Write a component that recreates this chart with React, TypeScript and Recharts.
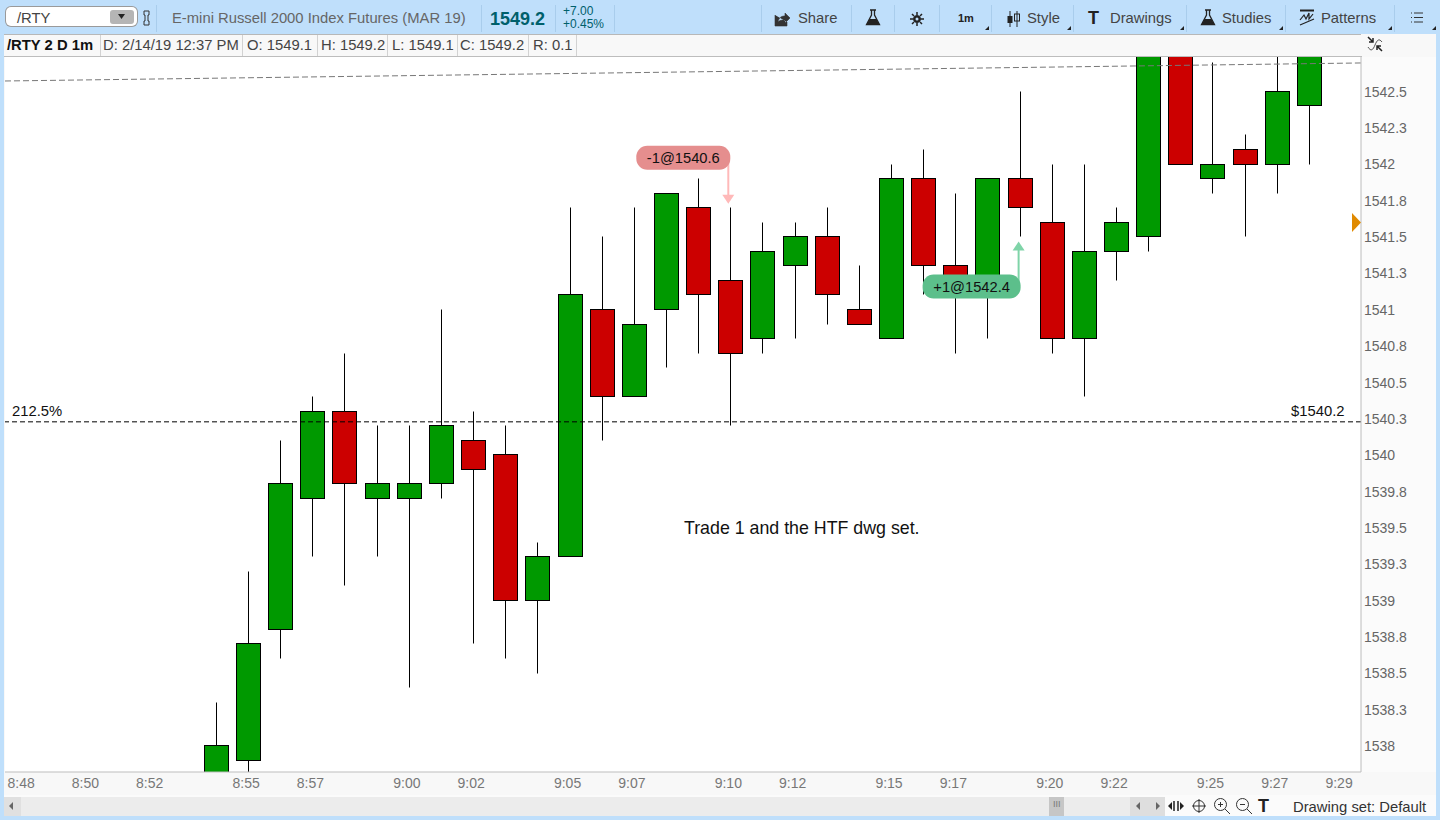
import React from 'react';
import {
  ComposedChart,
  Bar,
  XAxis,
  YAxis,
  ReferenceLine,
  ReferenceDot,
} from 'recharts';

// minutes after 8:48
const minutes = [
  6, 7, 8, 9, 10, 11, 12, 13, 14, 15, 16, 17, 18, 19, 20, 21, 22, 23, 24, 25,
  26, 27, 28, 29, 30, 31, 32, 33, 34, 35, 36, 37, 38, 39, 40,
];
const opens = [
  1537.7, 1537.9, 1538.8, 1539.7, 1540.3, 1539.7, 1539.7, 1539.8, 1540.1, 1540,
  1539, 1539.3, 1541, 1540.4, 1541, 1541.7, 1541.2, 1540.8, 1541.3, 1541.5,
  1541, 1540.8, 1541.9, 1541.3, 1541.2, 1541.9, 1541.6, 1540.8, 1541.4, 1541.5,
  1543, 1541.9, 1542.1, 1542, 1542.4,
];
const highs = [
  1538.3, 1539.2, 1540.1, 1540.4, 1540.7, 1540.2, 1540.2, 1541, 1540.3, 1540.2,
  1539.4, 1541.7, 1541.5, 1541.7, 1541.8, 1541.9, 1541.7, 1541.6, 1541.6, 1541.7,
  1541.3, 1542, 1542.1, 1541.8, 1541.9, 1542.5, 1542, 1542, 1541.7, 1543,
  1543, 1542.7, 1542.2, 1542.8, 1542.9,
];
const lows = [
  1537.6, 1537.8, 1538.6, 1539.3, 1539.1, 1539.3, 1538.4, 1539.7, 1538.7, 1538.6,
  1538.5, 1539.3, 1540.1, 1540.4, 1540.6, 1540.7, 1540.2, 1540.7, 1540.8, 1540.9,
  1540.9, 1540.8, 1541.1, 1540.7, 1540.8, 1541.5, 1540.7, 1540.4, 1541.2, 1541.4,
  1542, 1541.8, 1541.5, 1541.8, 1542,
];
const closes = [
  1538, 1538.7, 1539.8, 1540.3, 1539.8, 1539.8, 1539.8, 1540.2, 1539.9, 1539,
  1539.3, 1541.1, 1540.4, 1540.9, 1541.8, 1541.1, 1540.7, 1541.4, 1541.5, 1541.1,
  1540.9, 1541.9, 1541.3, 1541.2, 1541.9, 1541.7, 1540.8, 1541.4, 1541.6, 1543,
  1542, 1542, 1542, 1542.5, 1542.9,
];

const timeTicks = [0, 2, 4, 7, 9, 12, 14, 17, 19, 22, 24, 27, 29, 32, 34, 37, 39, 41];
const timeLabels = [
  '8:48', '8:50', '8:52', '8:55', '8:57', '9:00', '9:02', '9:05', '9:07',
  '9:10', '9:12', '9:15', '9:17', '9:20', '9:22', '9:25', '9:27', '9:29',
];
const priceTicks = [
  1538, 1538.25, 1538.5, 1538.75, 1539, 1539.25, 1539.5, 1539.75, 1540, 1540.25,
  1540.5, 1540.75, 1541, 1541.25, 1541.5, 1541.75, 1542, 1542.25, 1542.5,
];

const fibLevel = 1540.23;
const trendStart = 1542.574;
const trendEnd = 1542.698;
const xDomain = [-0.563, 41.62];
const yDomain = [1537.822, 1542.739];

const candles = minutes.map((m, i) => ({
  m,
  open: opens[i],
  high: highs[i],
  low: lows[i],
  close: closes[i],
}));

const FONT = '"Liberation Sans", Arial, sans-serif';
const BLUE = '#bfdffb';

const Candle = (props: any) => {
  const { x, y, width, height, payload } = props;
  const perUnit = height / (payload.high - payload.low);
  const yOf = (p: number) => Math.floor(y + (payload.high - p) * perUnit - 0.4) + 0.5;
  const cx = Math.round(x + width / 2) + 0.5;
  const top = yOf(Math.max(payload.open, payload.close));
  const bottom = yOf(Math.min(payload.open, payload.close));
  const up = payload.close > payload.open;
  return (
    <g>
      <line x1={cx} x2={cx} y1={yOf(payload.high)} y2={yOf(payload.low)} stroke="#000" />
      <rect
        x={cx - 12}
        y={top}
        width={24}
        height={bottom - top}
        fill={up ? '#009900' : '#cc0000'}
        stroke="#000"
      />
    </g>
  );
};

const SellMark = ({ cx, cy }: any) => (
  <g>
    <path d={`M${cx - 2} ${cy - 8} V${cy - 45}`} stroke="#ffb9b9" strokeWidth={2} fill="none" />
    <path d={`M${cx - 8} ${cy - 9} H${cx + 4} L${cx - 2} ${cy} Z`} fill="#ffb9b9" />
    <rect x={cx - 94} y={cy - 58} width={94} height={24} rx={11} fill="#e58e8e" />
    <text x={cx - 47} y={cy - 41} textAnchor="middle" fontSize={14.7} fontFamily={FONT} fill="#111">
      -1@1540.6
    </text>
  </g>
);

const BuyMark = ({ cx, cy }: any) => (
  <g>
    <path d={`M${cx - 1} ${cy + 8} V${cy + 40}`} stroke="#7fd4a8" strokeWidth={2} fill="none" />
    <path d={`M${cx - 7} ${cy + 9} H${cx + 5} L${cx - 1} ${cy} Z`} fill="#7fd4a8" />
    <rect x={cx - 97} y={cy + 33} width={98} height={24} rx={11} fill="#5cbf8b" />
    <text x={cx - 48} y={cy + 50} textAnchor="middle" fontSize={14.7} fontFamily={FONT} fill="#111">
      +1@1542.4
    </text>
  </g>
);

const Txt = ({ x, y, size = 14.8, color = '#555', bold, children }: any) => (
  <div
    style={{
      position: 'absolute',
      left: x,
      top: y,
      fontSize: size,
      lineHeight: `${Math.round(size) + 2}px`,
      color,
      fontWeight: bold ? 700 : 400,
      whiteSpace: 'nowrap',
    }}
  >
    {children}
  </div>
);

const Box = ({ x, y, w, h, bg, style }: any) => (
  <div style={{ position: 'absolute', left: x, top: y, width: w, height: h, background: bg, ...style }} />
);

const Icon = ({ x, y, w = 18, h = 18, children }: any) => (
  <svg
    width={w}
    height={h}
    viewBox={`0 0 ${w} ${h}`}
    style={{ position: 'absolute', left: x, top: y }}
  >
    {children}
  </svg>
);

const Flask = ({ x }: { x: number }) => (
  <Icon x={x} y={9}>
    <path d="M6 1h6M7.5 1v5L2.5 15.5h13L10.5 6V1" fill="none" stroke="#222" strokeWidth={1.3} />
    <path d="M5.5 10h7l3 5.5h-13z" fill="#222" />
  </Icon>
);

const toolbarSeps = [156, 481, 555, 614, 761, 851, 894, 939, 991, 1073, 1186, 1285, 1394];
const infoSeps = [100, 242, 317, 387, 457, 528, 576];
const cornerMarks = [989, 1071, 1184, 1283, 1392, 1436];

const App = () => (
  <div
    style={{
      position: 'absolute',
      left: 0,
      top: 0,
      width: 1440,
      height: 820,
      overflow: 'hidden',
      background: BLUE,
      fontFamily: FONT,
    }}
  >
    <style>{'body{margin:0}'}</style>

    {/* chart body */}
    <Box x={4} y={34} w={1432} h={782} bg="#f8f8f8" />
    <Box x={1362} y={57} w={74} h={715} bg="#fbfbfb" />
    <Box x={5} y={57} w={1356} h={715} bg="#fff" />
    <div style={{ position: 'absolute', left: 0, top: 0 }}>
      <ComposedChart
        width={1440}
        height={820}
        data={candles}
        margin={{ top: 57, right: 0, bottom: 0, left: 5 }}
      >
        <XAxis
          dataKey="m"
          type="number"
          domain={xDomain}
          allowDataOverflow
          ticks={timeTicks}
          interval={0}
          height={48}
          tickSize={0}
          tickMargin={6}
          tickFormatter={(v: number) => timeLabels[timeTicks.indexOf(v)]}
          tick={{ fill: '#777', fontSize: 14, fontFamily: FONT, dx: -2 }}
          axisLine={{ stroke: '#bdbdbd' }}
        />
        <YAxis
          orientation="right"
          type="number"
          domain={yDomain}
          allowDataOverflow
          ticks={priceTicks}
          interval={0}
          width={79}
          tickSize={0}
          tickMargin={3}
          tickFormatter={(v: number) => String(Number(v.toFixed(1)))}
          tick={{ fill: '#666', fontSize: 14, fontFamily: FONT }}
          axisLine={{ stroke: '#bdbdbd' }}
        />
        <ReferenceLine
          segment={[
            { x: xDomain[0], y: trendStart },
            { x: xDomain[1], y: trendEnd },
          ]}
          stroke="#777"
          strokeDasharray="6 3"
        />
        <ReferenceLine y={fibLevel} stroke="#000" strokeDasharray="5 3" />
        <Bar
          dataKey={(d: any) => [d.low, d.high]}
          barSize={24}
          shape={Candle}
          isAnimationActive={false}
          activeBar={false}
        />
        <ReferenceDot x={22} y={1541.73} shape={SellMark} />
        <ReferenceDot x={31} y={1541.47} shape={BuyMark} />
      </ComposedChart>
    </div>

    <Txt x={12} y={403} color="#111">212.5%</Txt>
    <Txt x={1291} y={403} color="#111">$1540.2</Txt>
    <Txt x={684} y={518} size={17.8} color="#111">Trade 1 and the HTF dwg set.</Txt>
    <Icon x={1351} y={213} w={10} h={20}>
      <path d="M1 0 L10 9.5 L1 19 Z" fill="#e08a00" />
    </Icon>

    {/* toolbar */}
    {toolbarSeps.map((x) => (
      <Box key={x} x={x} y={5} w={1} h={27} bg="#a9cdec" />
    ))}
    <Box x={6} y={7} w={131} h={19} bg="#fff" style={{ borderRadius: 5, boxShadow: '0 0 0 1px #9a9a9a' }} />
    <Txt x={17} y={10} color="#444">/RTY</Txt>
    <Box x={110} y={10} w={24} h={14} bg="#b5b5b5" style={{ borderRadius: 3 }} />
    <Icon x={117} y={14} w={10} h={6}><path d="M1 0h7L4.5 5z" fill="#222" /></Icon>
    <Icon x={142} y={10} w={10} h={16}>
      <path d="M2 1h5v4H6v6h1v4H2v-4h1V5H2z" fill="none" stroke="#333" />
    </Icon>
    <Txt x={172} y={10} color="#666">E-mini Russell 2000 Index Futures (MAR 19)</Txt>
    <Txt x={490} y={9} size={18} color="#00606b" bold>1549.2</Txt>
    <Txt x={563} y={4} size={12} color="#00606b">+7.00</Txt>
    <Txt x={563} y={17} size={12} color="#00606b">+0.45%</Txt>

    <Icon x={774} y={10}>
      <path d="M1 5v11h12v-4M4 12c1-5 4-6 7-6V3l5 5-5 5v-3c-3 0-5 0-7 2z" fill="#333" stroke="#333" strokeWidth={0.6} />
    </Icon>
    <Txt x={798} y={10} color="#444">Share</Txt>
    <Flask x={864} />
    <Icon x={908} y={10}>
      <circle cx={9} cy={9} r={3.500} fill="#222" stroke="#222" />
      <circle cx={9} cy={9} r={1.500} fill="#bfdffb" />
      <path d="M9 2v3M9 13v3M2 9h3M13 9h3M4 4l2 2M12 12l2 2M14 4l-2 2M6 12l-2 2" stroke="#222" strokeWidth={1.500} />
    </Icon>
    <Txt x={958} y={12} size={11} color="#222" bold>1m</Txt>
    <Icon x={1005} y={10}>
      <path d="M5 1v16M12 1v16" stroke="#222" />
      <rect x={2.500} y={6} width={5} height={7} fill="#222" />
      <rect x={9.500} y={4} width={5} height={7} fill="none" stroke="#222" />
    </Icon>
    <Txt x={1027} y={10} color="#444">Style</Txt>
    <Txt x={1088} y={8} size={18} color="#222" bold>T</Txt>
    <Txt x={1110} y={10} color="#444">Drawings</Txt>
    <Flask x={1199} />
    <Txt x={1222} y={10} color="#444">Studies</Txt>
    <Icon x={1299} y={9}>
      <path d="M1 1.500h14" stroke="#222" strokeWidth={2} />
      <path d="M1 11l4-5 2 4 3-6v6l4-5M1 16l14-6" fill="none" stroke="#222" strokeWidth={1.2} />
    </Icon>
    <Txt x={1321} y={10} color="#444">Patterns</Txt>
    <Icon x={1410} y={11} w={14} h={14}>
      <path d="M1 2h1M1 6.500h1M1 11h1M4 2h9M4 6.500h9M4 11h9" stroke="#333" />
    </Icon>
    {cornerMarks.map((x) => (
      <Icon key={x} x={x - 4} y={26} w={5} h={5}>
        <path d="M4 0v4H0z" fill="#222" />
      </Icon>
    ))}

    {/* info row */}
    <Box x={4} y={34} w={1357} h={1} bg="#b8b8b8" />
    <Box x={4} y={56} w={1358} h={1} bg="#bdbdbd" />
    {infoSeps.map((x) => (
      <Box key={x} x={x} y={35} w={1} h={21} bg="#d2d2d2" />
    ))}
    <Txt x={7} y={37} bold color="#111">/RTY 2 D 1m</Txt>
    <Txt x={103} y={37} color="#444">D: 2/14/19 12:37 PM</Txt>
    <Txt x={247} y={37} color="#444">O: 1549.1</Txt>
    <Txt x={321} y={37} color="#444">H: 1549.2</Txt>
    <Txt x={392} y={37} color="#444">L: 1549.1</Txt>
    <Txt x={460} y={37} color="#444">C: 1549.2</Txt>
    <Txt x={533} y={37} color="#444">R: 0.1</Txt>
    <Icon x={1366} y={35} w={18} h={18}>
      <path d="M2 2l5 5M7 3v4H3M16 16l-5-5M11 15v-4h4" fill="none" stroke="#222" strokeWidth={1.5} />
      <path d="M2 12c3 5 5 3 7-2s4-7 7-3" fill="none" stroke="#555" />
    </Icon>

    {/* scroll bar */}
    <Box x={4} y={795} w={1432} h={21} bg="#fbfbfb" />
    <Box x={4} y={797} w={1161} h={19} bg="#ececec" />
    <Box x={4} y={797} w={17} h={19} bg="#e0e0e0" />
    <Icon x={9} y={802} w={6} h={9}><path d="M4 0v8L0 4z" fill="#666" /></Icon>
    <Box x={1049} y={797} w={15} h={19} bg="#c6c6c6" />
    <Txt x={1053} y={799} size={9} color="#777">III</Txt>
    <Box x={1130} y={797} w={35} h={19} bg="#dedede" />
    <Icon x={1136} y={802} w={6} h={9}><path d="M4 0v8L0 4z" fill="#666" /></Icon>
    <Icon x={1156} y={802} w={6} h={9}><path d="M0 0v8l4-4z" fill="#666" /></Icon>
    <Icon x={1168} y={798} w={17} h={16}>
      <path d="M0 8l4-4v8zM16 8l-4-4v8z" fill="#222" />
      <path d="M6 3v10M10 3v10" stroke="#222" strokeWidth={1.500} />
    </Icon>
    <Icon x={1191} y={798} w={16} h={16}>
      <circle cx={8} cy={8} r={5.500} fill="none" stroke="#333" />
      <path d="M8 1v14M1 8h14" stroke="#333" />
    </Icon>
    <Icon x={1213} y={797} w={18} h={18}>
      <circle cx={7.500} cy={7.500} r={6} fill="none" stroke="#333" />
      <path d="M5 7.500h5M7.500 5v5M12 12l5 5" stroke="#333" />
    </Icon>
    <Icon x={1235} y={797} w={18} h={18}>
      <circle cx={7.500} cy={7.500} r={6} fill="none" stroke="#333" />
      <path d="M5 7.500h5M12 12l5 5" stroke="#333" />
    </Icon>
    <Txt x={1258} y={796} size={18} color="#222" bold>T</Txt>
    <Txt x={1293} y={799} color="#333">Drawing set: Default</Txt>
  </div>
);

export default App;
